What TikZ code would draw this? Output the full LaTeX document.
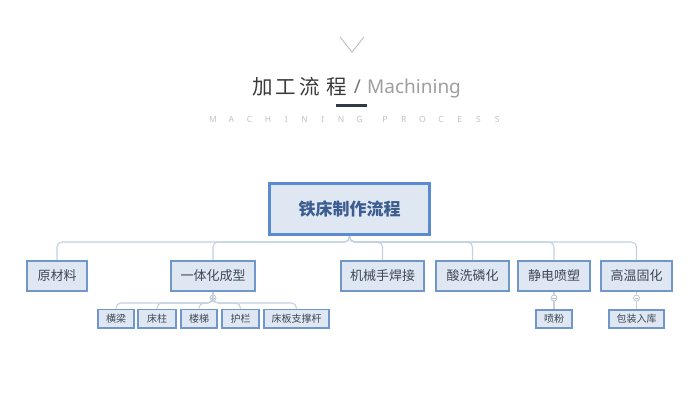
\documentclass[tikz,border=0pt]{standalone}
\usepackage{fontspec}
\setmainfont{Noto Sans}
\newfontfamily\cjk{Noto Sans CJK SC}
\definecolor{lc}{HTML}{C3D1E0}
\definecolor{bf}{HTML}{DFE7F2}
\definecolor{rb}{HTML}{5B8AD0}
\definecolor{kb}{HTML}{7097C9}
\definecolor{rt}{HTML}{3C5D8F}
\definecolor{kt}{HTML}{3D4856}
\definecolor{ttl}{HTML}{3A3A3A}
\definecolor{bar}{HTML}{2F3B47}
\tikzset{
  link/.style={draw=lc, line width=1.1pt, rounded corners=5pt},
  rootbox/.style={draw=rb, line width=3pt, fill=bf, minimum width=160pt, minimum height=51pt,
    font=\cjk\bfseries\fontsize{17}{17}\selectfont, text=rt, inner sep=0pt},
  kidbox/.style={draw=kb, line width=1.8pt, fill=bf, minimum height=30pt,
    font=\cjk\fontsize{13}{13}\selectfont, text=kt, inner sep=0pt},
  subbox/.style={draw=kb, line width=1.6pt, fill=bf, minimum height=18.4pt,
    font=\cjk\fontsize{10}{10}\selectfont, text=kt, inner sep=0pt},
  knob/.style={circle, draw=lc!80!gray, line width=0.7pt, minimum size=6pt, inner sep=0pt, fill=white},
  titlech/.style={font=\cjk\fontsize{20.5}{20.5}\selectfont, text=ttl, inner sep=0pt, anchor=base},
  spacedch/.style={font=\fontsize{8.5}{8.5}\selectfont, text=black!24, inner sep=0pt},
}
\begin{document}
\begin{tikzpicture}[x=1pt,y=-1pt]
\useasboundingbox (0,0) rectangle (696,404);
% header
\coordinate (v1) at (340,37);
\coordinate (v2) at (352,52);
\coordinate (v3) at (364,37);
\draw[black!28, line width=0.8pt] (v1) -- (v2) -- (v3);
\foreach \c/\x [count=\i] in {加/262.5,工/285.5,流/310,程/337}
  \node[titlech] (t\i) at (\x,94) {\c};
\node[font=\fontsize{19}{19}\selectfont, text=black!55, inner sep=0pt, anchor=base] (sl) at (357.5,93) {/};
\node[font=\fontsize{19}{19}\selectfont, text=black!38, inner sep=0pt, anchor=base west] (mach) at (367,93) {Machining};
\fill[bar] (336,104) rectangle (367,107);
\foreach \c [count=\i] in {M,A,C,H,I,N,I,N,G}
  \node[spacedch] (m\i) at ({213+18.3*(\i-1)},119) {\c};
\foreach \c [count=\i] in {P,R,O,C,E,S,S}
  \node[spacedch] (p\i) at ({385+18.7*(\i-1)},119) {\c};
% tree
\node[rootbox] (root) at (349.5,209) {铁床制作流程};
\coordinate (bus) at (350,242);
\node[kidbox, minimum width=60pt] (k1) at (57,276) {原材料};
\node[kidbox, minimum width=84pt] (k2) at (213,276) {一体化成型};
\node[kidbox, minimum width=83pt] (k3) at (382.5,276) {机械手焊接};
\node[kidbox, minimum width=73pt] (k4) at (472.5,276) {酸洗磷化};
\node[kidbox, minimum width=72pt] (k5) at (554,276) {静电喷塑};
\node[kidbox, minimum width=71pt] (k6) at (636.5,276) {高温固化};
\foreach \k in {k1,k2,k3,k4,k5,k6}
  \draw[link] (root.south) -- (root.south |- bus) -| (\k.north);
% knobs
\node[knob] (n2) at (213,298) {};
\node[knob] (n5) at (554,298) {};
\node[knob] (n6) at (636.5,298) {};
\foreach \n in {n2,n5,n6}
  \draw[lc!80!gray, line width=0.5pt] ([xshift=-1.6pt]\n.center) -- ([xshift=1.6pt]\n.center);
% sub boxes
\node[subbox, minimum width=36.4pt] (s1) at (116,318.5) {横梁};
\node[subbox, minimum width=38.4pt] (s2) at (157,318.5) {床柱};
\node[subbox, minimum width=36.4pt] (s3) at (199,318.5) {楼梯};
\node[subbox, minimum width=37.4pt] (s4) at (240.5,318.5) {护栏};
\node[subbox, minimum width=65.4pt] (s5) at (296.5,318.5) {床板支撑杆};
\node[subbox, minimum width=36.4pt] (s6) at (554,319) {喷粉};
\node[subbox, minimum width=55.4pt] (s7) at (636.5,319) {包装入库};
\coordinate (sbus) at (213,303);
\draw[link] (k2.south) -- (n2.north);
\draw[link] (k5.south) -- (n5.north);
\draw[link] (k6.south) -- (n6.north);
\foreach \s in {s1,s2,s3,s4,s5}
  \draw[link] (n2.south) -- (n2.south |- sbus) -| (\s.north);
\draw[link] (n5.south) -- (s6.north);
\draw[link] (n6.south) -- (s7.north);
\end{tikzpicture}
\end{document}
